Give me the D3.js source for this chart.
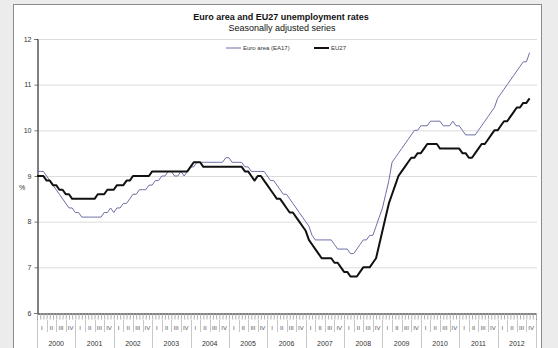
<!DOCTYPE html>
<html><head><meta charset="utf-8">
<script src="https://cdn.jsdelivr.net/npm/d3@7"></script>
<style>
html,body{margin:0;padding:0;background:#ececec;}
svg{display:block;font-family:"Liberation Sans",Arial,sans-serif;}
</style></head>
<body>
<svg id="c" width="558" height="348"></svg>
<script>
// ---- data (monthly, Jan 2000 .. Nov 2012) ----
const years = ["2000","2001","2002","2003","2004","2005","2006","2007","2008","2009","2010","2011","2012"];
const quarters = ["I","II","III","IV"];
const yTicks = [6,7,8,9,10,11,12];
const seriesNames = ["Euro area (EA17)","EU27"];
const euroArea = [
 9.1,9.1,9.1,9.0,8.9,8.8,8.7,8.6,8.5,8.4,8.3,8.3,
 8.2,8.2,8.1,8.1,8.1,8.1,8.1,8.1,8.1,8.2,8.2,8.3,
 8.2,8.3,8.3,8.4,8.4,8.5,8.6,8.6,8.7,8.7,8.7,8.8,
 8.8,8.9,8.9,9.0,9.0,9.1,9.1,9.0,9.0,9.1,9.0,9.1,
 9.2,9.2,9.3,9.3,9.3,9.3,9.3,9.3,9.3,9.3,9.3,9.4,
 9.4,9.3,9.3,9.3,9.3,9.2,9.2,9.1,9.1,9.1,9.1,9.1,
 9.0,8.9,8.9,8.8,8.7,8.6,8.6,8.5,8.4,8.3,8.2,8.1,
 8.0,7.9,7.7,7.6,7.6,7.6,7.6,7.6,7.6,7.5,7.4,7.4,
 7.4,7.4,7.3,7.3,7.4,7.5,7.6,7.6,7.7,7.7,7.9,8.1,
 8.3,8.6,8.9,9.3,9.4,9.5,9.6,9.7,9.8,9.9,10.0,10.0,
 10.1,10.1,10.1,10.2,10.2,10.2,10.2,10.1,10.1,10.1,10.2,10.1,
 10.1,10.0,9.9,9.9,9.9,9.9,10.0,10.1,10.2,10.3,10.4,10.5,
 10.7,10.8,10.9,11.0,11.1,11.2,11.3,11.4,11.5,11.5,11.7
];
const eu27 = [
 9.0,9.0,9.0,8.9,8.9,8.8,8.8,8.7,8.7,8.6,8.6,8.5,
 8.5,8.5,8.5,8.5,8.5,8.5,8.5,8.6,8.6,8.6,8.7,8.7,
 8.7,8.8,8.8,8.8,8.9,8.9,9.0,9.0,9.0,9.0,9.0,9.0,
 9.1,9.1,9.1,9.1,9.1,9.1,9.1,9.1,9.1,9.1,9.1,9.1,
 9.2,9.3,9.3,9.3,9.2,9.2,9.2,9.2,9.2,9.2,9.2,9.2,
 9.2,9.2,9.2,9.2,9.2,9.1,9.1,9.0,8.9,9.0,9.0,8.9,
 8.8,8.7,8.6,8.5,8.5,8.4,8.3,8.2,8.2,8.1,8.0,7.9,
 7.8,7.6,7.5,7.4,7.3,7.2,7.2,7.2,7.2,7.1,7.1,7.0,
 6.9,6.9,6.8,6.8,6.8,6.9,7.0,7.0,7.0,7.1,7.2,7.5,
 7.8,8.1,8.4,8.6,8.8,9.0,9.1,9.2,9.3,9.4,9.4,9.5,
 9.5,9.6,9.7,9.7,9.7,9.7,9.6,9.6,9.6,9.6,9.6,9.6,
 9.6,9.5,9.5,9.4,9.4,9.5,9.6,9.7,9.7,9.8,9.9,10.0,
 10.0,10.1,10.2,10.2,10.3,10.4,10.5,10.5,10.6,10.6,10.7
];
const colors = ["#6c6fa6","#111111"];

const svg = d3.select("#c");
// frame
svg.append("rect").attr("x",0).attr("y",0).attr("width",558).attr("height",348).attr("fill","#ececec");
svg.append("rect").attr("x",13.5).attr("y",4.5).attr("width",528).attr("height",350)
   .attr("fill","#ffffff").attr("stroke","#8a8a8a").attr("stroke-width",1);

const nMonths = years.length*12;
const x = d3.scaleLinear().domain([0,nMonths]).range([37,536]);
const y = d3.scaleLinear().domain([6,12]).range([313,39]);

// gridlines
svg.append("g").selectAll("line").data(yTicks.filter(d=>d>6)).join("line")
  .attr("x1",37).attr("x2",537).attr("y1",d=>y(d)+0.5).attr("y2",d=>y(d)+0.5)
  .attr("stroke","#dcdcdc").attr("stroke-width",1);

// y axis
const yAxis = d3.axisLeft(y).tickValues(yTicks).tickSize(3).tickFormat(d3.format("d"));
const gy = svg.append("g").attr("transform","translate(37.5,0)").call(yAxis);
gy.select(".domain").attr("stroke","#000");
gy.selectAll(".tick line").attr("stroke","#777");
gy.selectAll(".tick text").attr("font-size",7).attr("fill","#333").attr("x",-6)
  .attr("font-family","'Liberation Sans',Arial,sans-serif");
svg.append("text").attr("x",22).attr("y",190).attr("text-anchor","middle")
  .attr("font-size",7).attr("fill","#333").text("%");

// x axis: month ticks
const xAxis = d3.axisBottom(x).tickValues(d3.range(0,nMonths+1)).tickSize(6).tickFormat("");
const gx = svg.append("g").attr("transform","translate(0,313.5)").call(xAxis);
gx.select(".domain").attr("stroke","#000").attr("stroke-width",1);
gx.selectAll(".tick line").attr("stroke","#b0b0b0");

// quarter separators and labels
const qData = d3.range(years.length*4).map(k=>({k, label:quarters[k%4]}));
svg.append("g").selectAll("line").data(qData).join("line")
  .attr("x1",d=>Math.round(x(d.k*3))+0.5).attr("x2",d=>Math.round(x(d.k*3))+0.5)
  .attr("y1",320).attr("y2",332).attr("stroke","#c8c8c8");
svg.append("g").selectAll("text").data(qData).join("text")
  .attr("x",d=>x(d.k*3+1.5)).attr("y",329.5).attr("text-anchor","middle")
  .attr("font-size",6).attr("fill","#555").text(d=>d.label);

// year separators and labels
svg.append("g").selectAll("line").data(d3.range(years.length+1)).join("line")
  .attr("x1",d=>Math.round(x(d*12))+0.5).attr("x2",d=>Math.round(x(d*12))+0.5)
  .attr("y1",320).attr("y2",348).attr("stroke","#c8c8c8");
svg.append("g").selectAll("text").data(years).join("text")
  .attr("x",(d,i)=>x(i*12+6)).attr("y",345.5).attr("text-anchor","middle")
  .attr("font-size",7).attr("fill","#333").text(d=>d);

// lines
const line = d3.line().x((d,i)=>x(i)).y(d=>y(d));
svg.append("path").datum(euroArea).attr("d",line).attr("fill","none")
  .attr("stroke",colors[0]).attr("stroke-width",1);
svg.append("path").datum(eu27).attr("d",line).attr("fill","none")
  .attr("stroke",colors[1]).attr("stroke-width",2).attr("stroke-linejoin","round");

// title
svg.append("text").attr("x",281).attr("y",20).attr("text-anchor","middle")
  .attr("font-size",9).attr("font-weight","bold").attr("fill","#111")
  .text("Euro area and EU27 unemployment rates");
svg.append("text").attr("x",282).attr("y",31).attr("text-anchor","middle")
  .attr("font-size",9).attr("fill","#111").text("Seasonally adjusted series");

// legend
const leg = [{x:226,name:seriesNames[0],c:colors[0],w:1},{x:314,name:seriesNames[1],c:colors[1],w:2}];
const lg = svg.append("g").selectAll("g").data(leg).join("g");
lg.append("line").attr("x1",d=>d.x).attr("x2",d=>d.x+15).attr("y1",48).attr("y2",48)
  .attr("stroke",d=>d.c).attr("stroke-width",d=>d.w);
lg.append("text").attr("x",d=>d.x+17).attr("y",50.2).attr("font-size",6).attr("fill","#333").text(d=>d.name);
</script>
</body></html>
